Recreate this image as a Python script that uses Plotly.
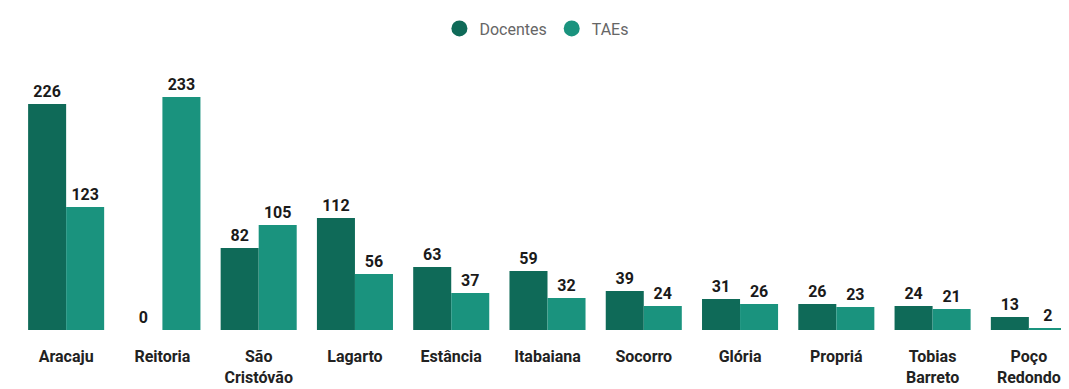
import plotly.graph_objects as go

categories = ["Aracaju", "Reitoria", "São<br>Cristóvão", "Lagarto", "Estância", "Itabaiana",
              "Socorro", "Glória", "Propriá", "Tobias<br>Barreto", "Poço<br>Redondo"]
docentes = [226, 0, 82, 112, 63, 59, 39, 31, 26, 24, 13]
taes = [123, 233, 105, 56, 37, 32, 24, 26, 23, 21, 2]

font_family = "Roboto"
c_doc = "#0f6a58"
c_tae = "#1a937e"

fig = go.Figure()
fig.add_trace(go.Bar(name="Docentes", x=categories, y=docentes,
                     marker=dict(color=c_doc, line=dict(width=0)),
                     text=docentes, textposition="outside", cliponaxis=False, showlegend=False,
                     textfont=dict(family=font_family, size=16, color="#1a1a1a", weight="bold")))
fig.add_trace(go.Bar(name="TAEs", x=categories, y=taes,
                     marker=dict(color=c_tae, line=dict(width=0)),
                     text=taes, textposition="outside", cliponaxis=False, showlegend=False,
                     textfont=dict(family=font_family, size=16, color="#1a1a1a", weight="bold")))
# legend entries with circular markers
fig.add_trace(go.Scatter(name="Docentes", x=[None], y=[None], mode="markers",
                         marker=dict(symbol="circle", size=16, color=c_doc)))
fig.add_trace(go.Scatter(name="TAEs", x=[None], y=[None], mode="markers",
                         marker=dict(symbol="circle", size=16, color=c_tae)))

fig.update_layout(
    width=1069, height=389,
    margin=dict(l=10, r=0, t=22, b=67),
    barmode="group", bargap=0.21, bargroupgap=0,
    plot_bgcolor="white", paper_bgcolor="white",
    font=dict(family=font_family),
    legend=dict(orientation="h", x=0.49, xanchor="center", y=1.005, yanchor="middle",
                font=dict(size=16, color="#666666"), itemwidth=30, traceorder="normal"),
    xaxis=dict(range=[-0.5, 10.5], showline=False, showgrid=False, ticks="",
               ticklabelstandoff=15,
               tickfont=dict(size=16, color="#222222", weight="bold")),
    yaxis=dict(range=[0, 300], visible=False),
)
fig.write_html("out.html")
